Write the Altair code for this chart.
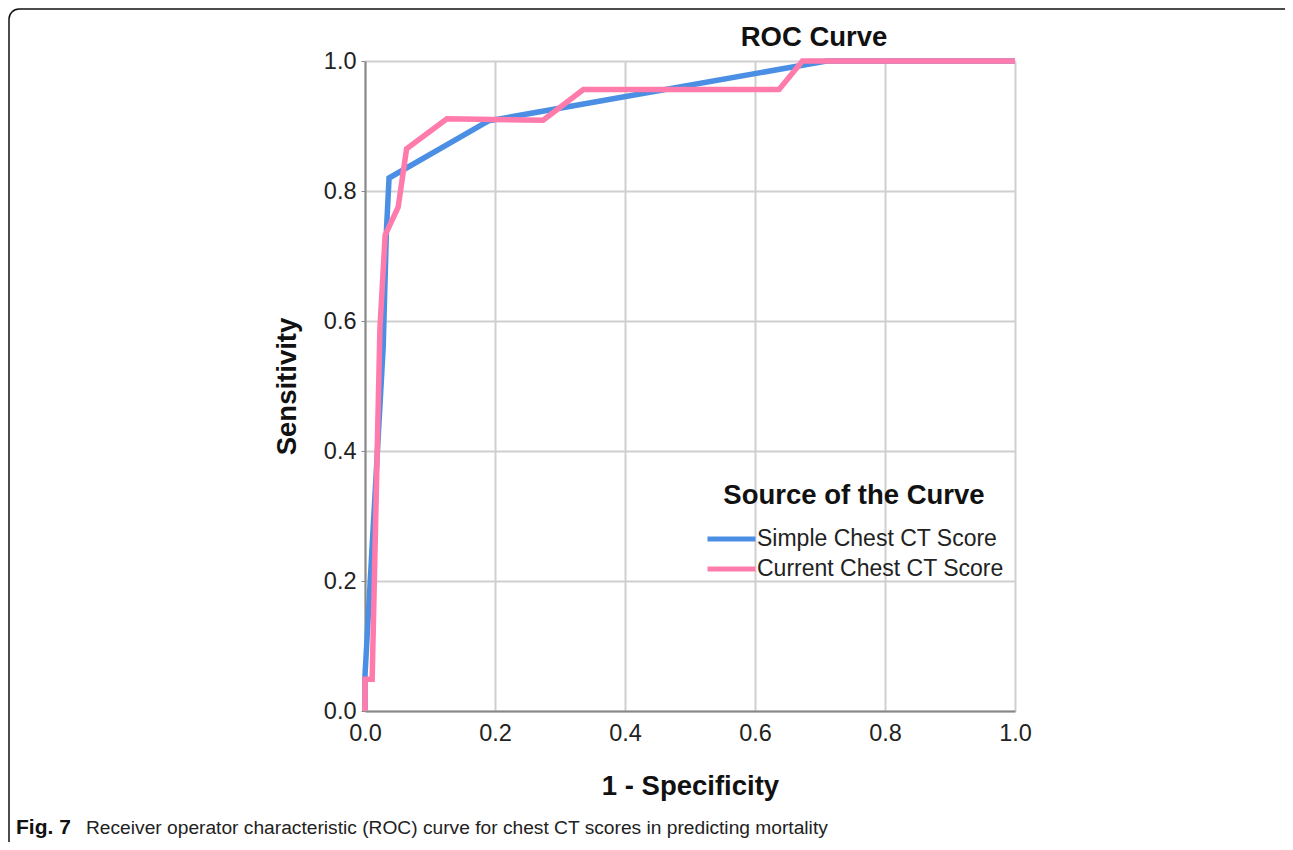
import altair as alt
import pandas as pd

# Simple Chest CT Score ROC points (1 - specificity, sensitivity)
simple_fpr = [0.0, 0.0, 0.028, 0.033, 0.037, 0.19, 0.71, 1.0]
simple_tpr = [0.0, 0.055, 0.56, 0.74, 0.82, 0.908, 1.0, 1.0]

# Current Chest CT Score ROC points
current_fpr = [0.0, 0.0, 0.011, 0.023, 0.031, 0.051, 0.064, 0.126, 0.274, 0.336, 0.637, 0.673, 1.0]
current_tpr = [0.0, 0.049, 0.049, 0.59, 0.732, 0.775, 0.865, 0.911, 0.909, 0.956, 0.956, 1.0, 1.0]

series_names = ["Simple Chest CT Score", "Current Chest CT Score"]
series_colors = ["#4A8FE3", "#FF7BAC"]
tick_values = [0.0, 0.2, 0.4, 0.6, 0.8, 1.0]

simple_df = pd.DataFrame({"fpr": simple_fpr, "tpr": simple_tpr,
                          "series": series_names[0], "idx": range(len(simple_fpr))})
current_df = pd.DataFrame({"fpr": current_fpr, "tpr": current_tpr,
                           "series": series_names[1], "idx": range(len(current_fpr))})

FONT = "Liberation Sans, Arial, sans-serif"

color = alt.Color(
    "series:N",
    scale=alt.Scale(domain=series_names, range=series_colors),
    legend=alt.Legend(
        title="Source of the Curve",
        orient="none",
        legendX=340,
        legendY=421,
        symbolType="M-1.6,0H1.6",
        symbolStrokeWidth=5,
        symbolSize=900,
        symbolOffset=9,
        labelFontSize=23,
        labelFont=FONT,
        labelColor="#222",
        labelLimit=0,
        labelOffset=8,
        titleFontSize=27.5,
        titleFont=FONT,
        titleFontWeight="bold",
        titleColor="#111",
        titleLimit=0,
        titlePadding=12,
        titleAnchor="middle",
        rowPadding=0,
    ),
)

x = alt.X(
    "fpr:Q",
    scale=alt.Scale(domain=[0, 1], nice=False),
    axis=alt.Axis(
        title="1 - Specificity",
        values=tick_values,
        format=".1f",
        labelFontSize=23.5,
        labelFont=FONT,
        labelColor="#222",
        labelPadding=10,
        titleFontSize=27.5,
        titleFont=FONT,
        titleFontWeight="bold",
        titleColor="#111",
        titlePadding=28,
        domainColor="#888888",
        domainWidth=2,
        tickSize=0,
        gridColor="#cfcfcf",
        gridWidth=2,
        labelFlush=False,
    ),
)
y = alt.Y(
    "tpr:Q",
    scale=alt.Scale(domain=[0, 1], nice=False),
    axis=alt.Axis(
        title="Sensitivity",
        values=tick_values,
        format=".1f",
        labelFontSize=23.5,
        labelFont=FONT,
        labelColor="#222",
        labelPadding=5,
        titleFontSize=27.5,
        titleFont=FONT,
        titleFontWeight="bold",
        titleColor="#111",
        titlePadding=22,
        domainColor="#888888",
        domainWidth=2,
        tickSize=4,
        tickColor="#888888",
        gridColor="#cfcfcf",
        gridWidth=2,
        labelFlush=False,
    ),
)

blue = alt.Chart(simple_df).mark_line(strokeWidth=5.5, clip=False).encode(
    x=x, y=y, color=color, order=alt.Order("idx:Q")
)
pink = alt.Chart(current_df).mark_line(strokeWidth=5.5, clip=False).encode(
    x=x, y=y, color=color, order=alt.Order("idx:Q")
)

deco = pd.DataFrame({"a": [0]})
frame = alt.Chart(deco).mark_rect(
    filled=False, stroke="#111", strokeWidth=1.5, cornerRadius=10
).encode(
    x=alt.value(-356), x2=alt.value(940), y=alt.value(-52), y2=alt.value(800)
)
title_text = alt.Chart(deco).mark_text(
    text="ROC Curve", font=FONT, fontSize=27.5, fontWeight="bold",
    align="center", baseline="middle", color="#111"
).encode(x=alt.value(449), y=alt.value(-23))
cap_bold = alt.Chart(deco).mark_text(
    text="Fig. 7", font="Liberation Sans Narrow, Liberation Sans, sans-serif",
    fontSize=21, fontWeight="bold", align="left", baseline="middle", color="#111"
).encode(x=alt.value(-349), y=alt.value(767))
cap_rest = alt.Chart(deco).mark_text(
    text="Receiver operator characteristic (ROC) curve for chest CT scores in predicting mortality",
    font="Liberation Sans Narrow, Liberation Sans, sans-serif",
    fontSize=19.2, align="left", baseline="middle", color="#222"
).encode(x=alt.value(-279), y=alt.value(767))

chart = alt.layer(blue, pink, frame, title_text, cap_bold, cap_rest).properties(
    width=650,
    height=650,
    autosize=alt.AutoSizeParams(type="none"),
    padding={"left": 357, "top": 53, "right": 270, "bottom": 131},
).configure_view(stroke=None).configure(background="white")

chart.save("out.html", embed_options={"renderer": "svg", "actions": False})
